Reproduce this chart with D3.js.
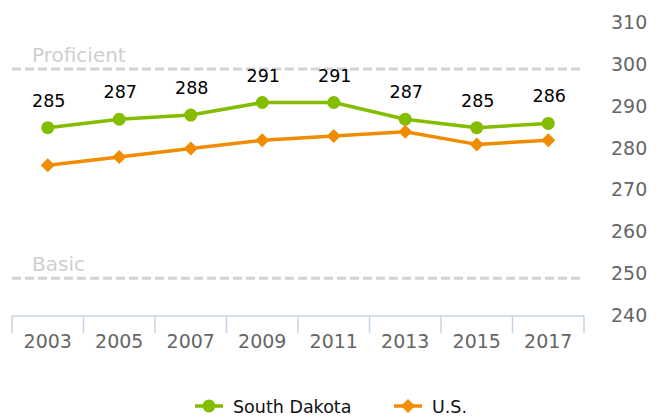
<!DOCTYPE html>
<html><head><meta charset="utf-8">
<script src="https://cdn.jsdelivr.net/npm/d3@7"></script>
<style>body{margin:0;background:#fff;} svg{display:block;font-family:"DejaVu Sans",Verdana,sans-serif;}</style>
</head><body>
<svg id="c" width="662" height="417"></svg>
<script>
const years = ["2003","2005","2007","2009","2011","2013","2015","2017"];
const southDakota = [285,287,288,291,291,287,285,286];
const us = [276,278,280,282,283,284,281,282];
const yTicks = [240,250,260,270,280,290,300,310];
const plotLines = [{label:"Proficient", value:299},{label:"Basic", value:249}];
const seriesNames = ["South Dakota","U.S."];
const colors = ["#84bd00","#f08c00"];

const svg = d3.select("#c");
const x = d3.scaleBand().domain(years).range([12,584]);
const y = d3.scaleLinear().domain([240,310]).range([316,23]);
const cx = d => x(d)+x.bandwidth()/2;

// plot lines
plotLines.forEach(p=>{
  svg.append("line").attr("x1",12).attr("x2",584).attr("y1",y(p.value)).attr("y2",y(p.value))
    .attr("stroke","#d3d3d3").attr("stroke-width",3).attr("stroke-dasharray","9,4");
  svg.append("text").attr("x",32).attr("y",y(p.value)-7.5).text(p.label)
    .attr("fill","#cfcfcf").attr("font-size","20px");
});

// y axis (right, labels only)
const ya = svg.append("g").attr("transform","translate(611,0)")
  .call(d3.axisRight(y).tickValues(yTicks).tickSize(0).tickPadding(0));
ya.select(".domain").remove();
ya.selectAll("text").attr("font-size","19px").attr("fill","#666").attr("font-family","DejaVu Sans")
  .attr("dy",null).attr("dominant-baseline","auto").attr("transform","translate(0,5.5)");

// x axis
const xa = svg.append("g").attr("transform","translate(0,316)")
  .call(d3.axisBottom(x).tickSize(0).tickPadding(0));
xa.select(".domain").attr("stroke","#c5d4e4").attr("stroke-width",1.5).attr("d","M12,0H584");
xa.selectAll("text").attr("font-size","19px").attr("fill","#666").attr("font-family","DejaVu Sans")
  .attr("dy",null).attr("y",32);
const bounds = years.map(d=>x(d)).concat([x(years[years.length-1])+x.bandwidth()]);
svg.append("g").selectAll("line").data(bounds).join("line")
  .attr("x1",d=>d).attr("x2",d=>d).attr("y1",316).attr("y2",333)
  .attr("stroke","#c5d4e4").attr("stroke-width",1.5);

const line = d3.line().x((d,i)=>cx(years[i])).y(d=>y(d));
// US
svg.append("path").attr("d",line(us)).attr("fill","none").attr("stroke",colors[1]).attr("stroke-width",3.5).attr("stroke-linejoin","round");
const diamond = "M0,-7L7,0L0,7L-7,0Z";
svg.append("g").selectAll("path").data(us).join("path")
  .attr("d",diamond).attr("transform",(d,i)=>`translate(${cx(years[i])},${y(d)})`).attr("fill",colors[1]);
// SD
svg.append("path").attr("d",line(southDakota)).attr("fill","none").attr("stroke",colors[0]).attr("stroke-width",3.5).attr("stroke-linejoin","round");
svg.append("g").selectAll("circle").data(southDakota).join("circle")
  .attr("cx",(d,i)=>cx(years[i])).attr("cy",d=>y(d)).attr("r",6.5).attr("fill",colors[0]);
svg.append("g").selectAll("text").data(southDakota).join("text")
  .attr("x",(d,i)=>cx(years[i])+1).attr("y",d=>y(d)-21).attr("text-anchor","middle")
  .attr("font-size","17.5px").attr("fill","#000").text(d=>d);

// legend
const lg = svg.append("g");
const items = [{name:seriesNames[0],color:colors[0],sym:"c",x0:195,tx:233},{name:seriesNames[1],color:colors[1],sym:"d",x0:394,tx:432}];
items.forEach(it=>{
  lg.append("line").attr("x1",it.x0).attr("x2",it.x0+28).attr("y1",406).attr("y2",406).attr("stroke",it.color).attr("stroke-width",3.5);
  if(it.sym==="c") lg.append("circle").attr("cx",it.x0+14).attr("cy",406).attr("r",6.5).attr("fill",it.color);
  else lg.append("path").attr("d",diamond).attr("transform",`translate(${it.x0+14},406)`).attr("fill",it.color);
  lg.append("text").attr("x",it.tx).attr("y",412.5).attr("font-size","17.5px").attr("fill","#111").text(it.name);
});
</script>
</body></html>
